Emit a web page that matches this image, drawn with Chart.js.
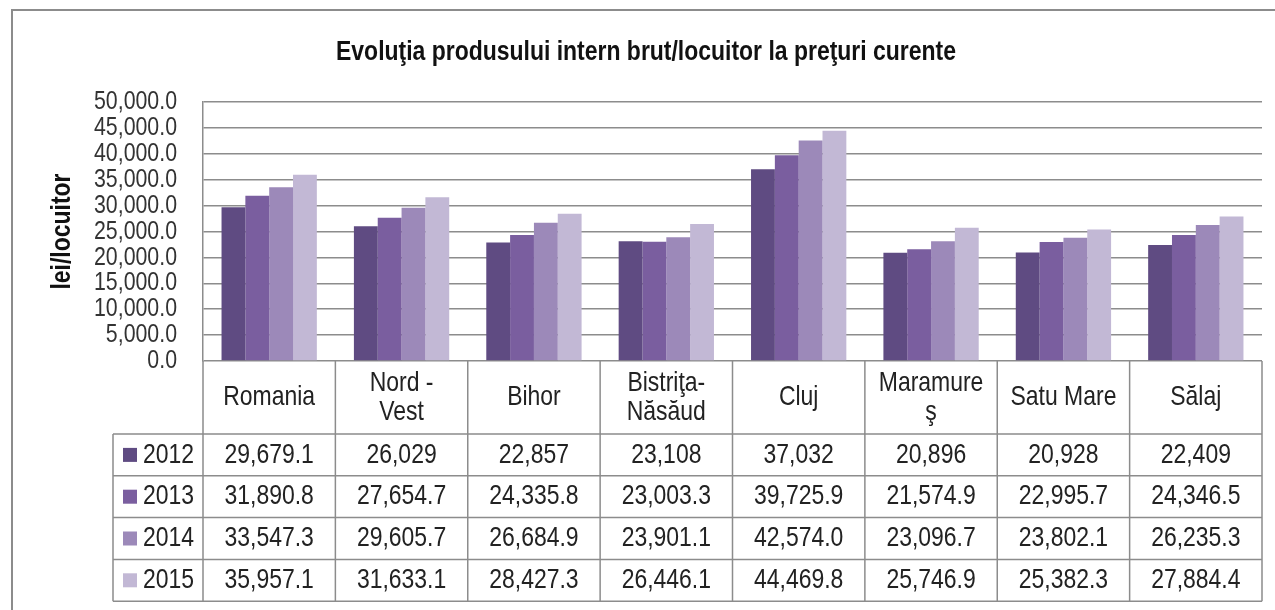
<!DOCTYPE html>
<html>
<head>
<meta charset="utf-8">
<title>Evoluţia produsului intern brut/locuitor</title>
<script src="https://cdn.jsdelivr.net/npm/chart.js@4/dist/chart.umd.min.js"></script>
<style>
    body { margin: 0; background: #fff; }
    canvas { display: block; }
</style>
</head>
<body>
<canvas id="gdpChart" width="1275" height="610"></canvas>
<script>
// Categories (multi-line header labels as in the table)
const categories = ['Romania', ['Nord -', 'Vest'], 'Bihor', ['Bistriţa-', 'Năsăud'], 'Cluj', ['Maramure', 'ş'], 'Satu Mare', 'Sălaj'];
const years = ['2012', '2013', '2014', '2015'];

// PIB/locuitor, lei
const gdp2012 = [29679.1, 26029, 22857, 23108, 37032, 20896, 20928, 22409];
const gdp2013 = [31890.8, 27654.7, 24335.8, 23003.3, 39725.9, 21574.9, 22995.7, 24346.5];
const gdp2014 = [33547.3, 29605.7, 26684.9, 23901.1, 42574.0, 23096.7, 23802.1, 26235.3];
const gdp2015 = [35957.1, 31633.1, 28427.3, 26446.1, 44469.8, 25746.9, 25382.3, 27884.4];

// decimals shown in the data table (2012 row is mostly whole numbers)
const decimals2012 = [1, 0, 0, 0, 0, 0, 0, 0];
const decimalsOther = [1, 1, 1, 1, 1, 1, 1, 1];

const yMin = 0;
const yMax = 50000;
const yStep = 5000;

const chartTitle = 'Evoluţia produsului intern brut/locuitor la preţuri curente';
const yTitle = 'lei/locuitor';

const colors = ['#5f4b82', '#7a5e9f', '#9c89b9', '#c2b8d5'];

// no Arial Narrow here -> squeeze Liberation Sans horizontally
const FONT = '"Liberation Sans", Arial, sans-serif';
const NARROW = 0.82;
const GRID = '#8c8c8c';
const TEXT = '#222';

const series = [gdp2012, gdp2013, gdp2014, gdp2015];
const decimals = [decimals2012, decimalsOther, decimalsOther, decimalsOther];

function fmt(v, d) {
    return v.toLocaleString('en-US', { minimumFractionDigits: d, maximumFractionDigits: d });
}

function narrowText(ctx, text, x, y, align, rotate) {
    ctx.save();
    ctx.translate(x, y);
    if (rotate) ctx.rotate(rotate);
    ctx.scale(NARROW, 1);
    ctx.textAlign = align;
    ctx.fillText(text, 0, 0);
    ctx.restore();
}

/**
 * Outer frame, title, y labels
 */
const framePlugin = {
    id: 'frame',
    beforeDraw(chart) {
        const ctx = chart.ctx;
        ctx.save();
        ctx.strokeStyle = GRID;
        ctx.lineWidth = 2;
        ctx.beginPath();
        ctx.moveTo(12, chart.height);
        ctx.lineTo(12, 10);
        ctx.lineTo(chart.width, 10);
        ctx.stroke();
        ctx.restore();
    },
    afterDraw(chart) {
        const { ctx, chartArea: area, scales: { y } } = chart;
        ctx.save();
        ctx.textBaseline = 'middle';

        ctx.fillStyle = '#111';
        ctx.font = 'bold 28px ' + FONT;
        narrowText(ctx, chartTitle, 646, 52, 'center');
        narrowText(ctx, yTitle, 62, (area.top + area.bottom) / 2, 'center', -Math.PI / 2);

        ctx.fillStyle = '#333';
        ctx.font = '26px ' + FONT;
        y.ticks.forEach(t => {
            narrowText(ctx, fmt(t.value, 1), area.left - 26, y.getPixelForValue(t.value), 'right');
        });
        ctx.restore();
    }
};

/**
 * Data table under the plot (replaces x axis labels + legend)
 */
const tablePlugin = {
    id: 'dataTable',
    afterDraw(chart) {
        const { ctx, chartArea: area, scales: { x } } = chart;
        const colW = area.width / categories.length;
        const headTop = area.bottom;
        const headBottom = headTop + 73;
        const rowH = 41.8;
        const tableBottom = headBottom + rowH * years.length;
        const legendLeft = 113;

        ctx.save();
        ctx.strokeStyle = GRID;
        ctx.lineWidth = 1.5;

        // horizontal lines
        ctx.beginPath();
        for (let r = 0; r <= years.length; r++) {
            const yy = headBottom + r * rowH;
            ctx.moveTo(legendLeft, yy);
            ctx.lineTo(area.right, yy);
        }
        // vertical lines
        for (let c = 0; c <= categories.length; c++) {
            const xx = area.left + c * colW;
            ctx.moveTo(xx, headTop);
            ctx.lineTo(xx, tableBottom);
        }
        ctx.moveTo(legendLeft, headBottom);
        ctx.lineTo(legendLeft, tableBottom);
        ctx.stroke();

        ctx.fillStyle = TEXT;
        ctx.font = '28px ' + FONT;
        ctx.textBaseline = 'middle';

        // header labels
        categories.forEach((cat, i) => {
            const cx = x.getPixelForValue(i);
            const lines = Array.isArray(cat) ? cat : [cat];
            const lh = 29;
            const cy = (headTop + headBottom) / 2 - (lines.length - 1) * lh / 2;
            lines.forEach((ln, k) => narrowText(ctx, ln, cx, cy + k * lh, 'center'));
        });

        // rows
        series.forEach((vals, r) => {
            const cy = headBottom + r * rowH + rowH / 2;
            ctx.fillStyle = colors[r];
            ctx.fillRect(legendLeft + 10, cy - 7, 14, 14);
            ctx.fillStyle = TEXT;
            narrowText(ctx, years[r], legendLeft + 30, cy, 'left');
            vals.forEach((v, i) => {
                narrowText(ctx, fmt(v, decimals[r][i]), x.getPixelForValue(i), cy, 'center');
            });
        });
        ctx.restore();
    }
};

new Chart(document.getElementById('gdpChart'), {
    type: 'bar',
    data: {
        labels: categories,
        datasets: years.map((yr, i) => ({
            label: yr,
            data: series[i],
            backgroundColor: colors[i],
            borderWidth: 0,
            categoryPercentage: 0.72,
            barPercentage: 1.0
        }))
    },
    options: {
        responsive: false,
        animation: false,
        layout: {
            padding: { left: 0, right: 13, top: 102, bottom: 249 }
        },
        scales: {
            x: { display: false },
            y: {
                min: yMin,
                max: yMax,
                afterFit: (scale) => { scale.width = 203; },
                ticks: { stepSize: yStep, display: false },
                grid: { color: GRID, lineWidth: 1.5, drawTicks: false },
                border: { display: true, color: GRID, width: 1.5 }
            }
        },
        plugins: {
            legend: { display: false },
            tooltip: { enabled: false },
            title: { display: false }
        }
    },
    plugins: [framePlugin, tablePlugin]
});
</script>
</body>
</html>
